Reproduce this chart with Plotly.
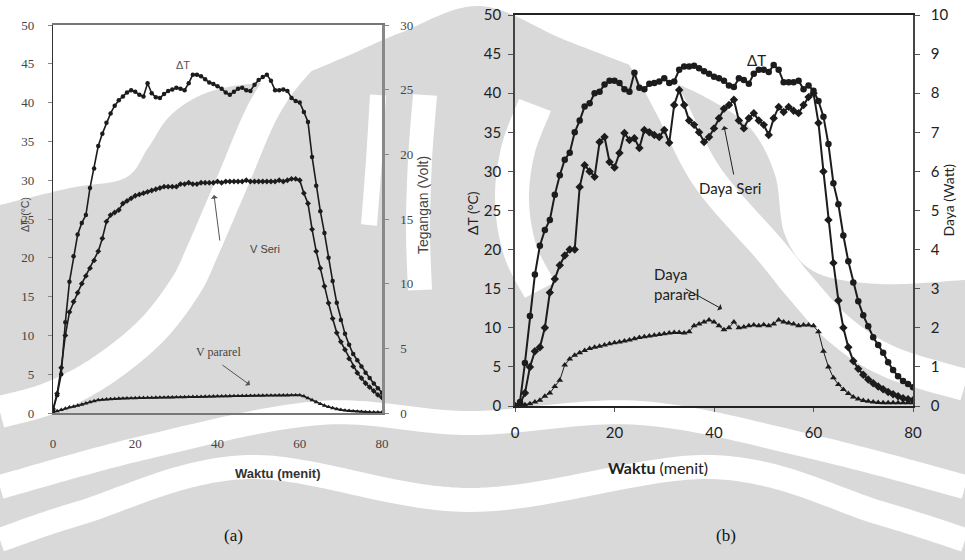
import numpy as np
import plotly.graph_objects as go

# Time axis (minutes), one reading per minute
waktu = list(range(0, 81))

# ---- Panel (a): temperature difference and voltages ----
dt_a = [0.3, 2.3, 5.0, 11.7, 16.9, 20.2, 23.0, 24.5, 25.5, 29.0,
        31.5, 34.4, 36.0, 37.4, 38.6, 39.6, 40.3, 40.8, 41.3, 41.6,
        41.4, 41.0, 40.8, 42.5, 41.2, 40.7, 40.6, 41.1, 41.5, 41.7,
        41.9, 41.8, 41.6, 42.5, 43.6, 43.6, 43.4, 43.0, 42.6, 42.4,
        42.1, 41.8, 41.3, 41.0, 41.4, 41.8, 41.9, 41.6, 41.5, 42.3,
        42.9, 43.3, 43.6, 42.8, 41.6, 41.6, 41.7, 41.5, 40.6, 40.2,
        40.0, 38.8, 37.5, 33.0, 29.3, 26.0, 23.2, 20.0, 17.0, 14.2,
        12.0, 10.2, 8.8, 7.6, 6.8, 6.0, 5.2, 4.5, 3.8, 3.2,
        2.6]
v_seri = [0.3, 1.5, 3.5, 6.0, 7.8, 8.6, 9.3, 10.0, 10.6, 11.2,
          11.8, 12.5, 13.5, 14.8, 15.3, 15.5, 15.7, 16.2, 16.4, 16.6,
          16.8, 16.9, 17.0, 17.1, 17.2, 17.3, 17.4, 17.5, 17.5, 17.5,
          17.5, 17.7, 17.7, 17.8, 17.7, 17.7, 17.8, 17.8, 17.8, 17.8,
          17.9, 17.8, 17.9, 17.9, 17.9, 17.9, 17.9, 18.0, 17.9, 17.9,
          17.9, 17.9, 17.9, 17.9, 17.9, 18.0, 17.9, 18.0, 18.1, 18.1,
          18.0, 17.0, 16.2, 14.2, 12.5, 11.2, 9.8, 8.5, 7.3, 6.2,
          5.5, 4.9, 4.2, 3.6, 3.1, 2.7, 2.3, 2.0, 1.7, 1.4,
          1.2]
v_pararel = [0.05, 0.15, 0.25, 0.35, 0.45, 0.50, 0.58, 0.65, 0.75, 0.85,
             0.92, 1.00, 1.03, 1.06, 1.08, 1.10, 1.12, 1.13, 1.14, 1.15,
             1.16, 1.17, 1.17, 1.18, 1.18, 1.19, 1.20, 1.20, 1.21, 1.21,
             1.22, 1.22, 1.23, 1.24, 1.25, 1.25, 1.26, 1.27, 1.28, 1.29,
             1.30, 1.30, 1.31, 1.31, 1.32, 1.32, 1.33, 1.33, 1.34, 1.34,
             1.35, 1.35, 1.36, 1.36, 1.36, 1.37, 1.37, 1.37, 1.38, 1.38,
             1.38, 1.30, 1.15, 1.00, 0.85, 0.70, 0.58, 0.47, 0.38, 0.30,
             0.25, 0.20, 0.17, 0.14, 0.12, 0.10, 0.08, 0.07, 0.06, 0.05,
             0.05]

# ---- Panel (b): temperature difference and power ----
dt_b = [0.0, 0.5, 5.5, 11.5, 16.8, 20.5, 22.5, 23.8, 27.0, 29.5,
        31.5, 32.4, 35.0, 36.5, 38.3, 38.7, 40.0, 40.2, 41.1, 41.6,
        41.6, 41.3, 40.5, 40.2, 42.6, 40.7, 40.5, 41.2, 41.3, 41.5,
        41.9, 41.3, 41.5, 43.0, 43.4, 43.4, 43.5, 43.2, 42.8, 42.5,
        42.1, 41.9, 41.6, 41.0, 40.8, 41.9, 41.7, 41.2, 42.5, 43.0,
        43.0, 42.7, 43.6, 43.0, 41.4, 41.4, 41.4, 41.6, 40.5, 41.0,
        40.3, 39.0, 37.0, 33.5, 28.5, 25.8, 21.8, 18.5, 15.8, 13.4,
        11.6, 10.2, 8.8, 7.8, 6.8, 5.6, 4.6, 3.8, 3.2, 2.8,
        2.4]
daya_seri = [0.0, 0.05, 0.33, 1.0, 1.4, 1.5, 2.0, 2.9, 3.25, 3.6,
             3.85, 4.0, 4.0, 5.6, 6.16, 6.0, 5.86, 6.75, 6.88, 6.24,
             6.1, 6.47, 6.98, 6.8, 6.85, 6.6, 7.06, 7.0, 6.93, 6.88,
             7.06, 6.73, 7.7, 8.08, 7.7, 7.3, 7.19, 7.0, 6.75, 6.88,
             7.1, 7.36, 7.6, 7.7, 7.83, 7.3, 7.1, 7.36, 7.49, 7.3,
             7.19, 6.93, 7.36, 7.65, 7.52, 7.65, 7.55, 7.49, 7.7, 7.9,
             8.0, 7.24, 6.0, 4.76, 3.66, 2.7, 2.0, 1.5, 1.15, 0.95,
             0.8, 0.68, 0.58, 0.5, 0.43, 0.36, 0.3, 0.25, 0.2, 0.17,
             0.15]
daya_pararel = [0.0, 0.02, 0.03, 0.06, 0.1, 0.15, 0.25, 0.33, 0.5, 0.66,
                1.05, 1.2, 1.3, 1.36, 1.42, 1.47, 1.5, 1.53, 1.56, 1.59,
                1.62, 1.64, 1.66, 1.69, 1.72, 1.75, 1.77, 1.79, 1.81, 1.83,
                1.85, 1.87, 1.88, 1.88, 1.87, 1.9, 2.05, 2.1, 2.15, 2.2,
                2.15, 2.05, 1.95, 2.0, 2.15, 2.0, 2.02, 2.05, 2.07, 2.05,
                2.08, 2.05, 2.1, 2.2, 2.15, 2.12, 2.1, 2.05, 2.07, 2.07,
                2.05, 1.9, 1.4, 1.0, 0.72, 0.55, 0.42, 0.32, 0.23, 0.18,
                0.14, 0.12, 0.1, 0.09, 0.08, 0.08, 0.08, 0.08, 0.08, 0.08,
                0.08]

x_ticks = [0, 20, 40, 60, 80]
dt_ticks = [0, 5, 10, 15, 20, 25, 30, 35, 40, 45, 50]
volt_ticks = [0, 5, 10, 15, 20, 25, 30]
watt_ticks = [0, 1, 2, 3, 4, 5, 6, 7, 8, 9, 10]

W, H = 965, 560
INK = "#1c1c1c"
MARK_GRAY = "#d9d9d9"


def px(x):
    return x / W


def py(y):
    return 1 - y / H


def path_from(points, close=False):
    """SVG path in paper units from a list of (x, y) pixel points."""
    parts = [f"{'M' if i == 0 else 'L'}{px(x):.5f},{py(y):.5f}" for i, (x, y) in enumerate(points)]
    return " ".join(parts) + (" Z" if close else "")


def smooth(points, n=24):
    """Catmull-Rom resampling through control points."""
    pts = np.array(points, dtype=float)
    out = []
    for i in range(len(pts) - 1):
        p0 = pts[max(i - 1, 0)]
        p1 = pts[i]
        p2 = pts[i + 1]
        p3 = pts[min(i + 2, len(pts) - 1)]
        for s in np.linspace(0, 1, n, endpoint=False):
            s2, s3 = s * s, s * s * s
            out.append(0.5 * ((2 * p1) + (-p0 + p2) * s + (2 * p0 - 5 * p1 + 4 * p2 - p3) * s2
                              + (-p0 + 3 * p1 - 3 * p2 + p3) * s3))
    out.append(pts[-1])
    return [tuple(p) for p in out]


def fill_shape(outline, color):
    return dict(type="path", xref="paper", yref="paper", layer="below",
                path=path_from(outline, close=True),
                fillcolor=color, line=dict(width=0))


def band_shape(points, width, color="white"):
    return dict(type="path", xref="paper", yref="paper", layer="below",
                path=path_from(smooth(points)), line=dict(color=color, width=width))


# Outline of the emblem body: a smooth upper rim, then straight down to the page bottom
rim = smooth([(0, 205), (70, 188), (125, 178), (148, 148), (168, 118), (195, 98),
              (228, 87), (290, 78), (345, 57), (400, 33), (480, 6), (565, 40),
              (650, 73), (705, 97), (750, 128), (775, 175), (785, 235), (815, 272),
              (880, 284), (965, 280)])
body = rim + [(965, 560), (0, 560)]

# Background emblem in light gray, drawn underneath the data
shapes = [
    fill_shape(body, MARK_GRAY),
    # large white arch with flaring feet
    band_shape([(0, 412), (50, 398), (100, 372), (150, 332), (185, 287), (203, 250),
                (234, 178), (265, 107), (300, 60), (345, 21), (400, -15), (480, -35),
                (560, -15), (615, 21), (645, 60), (671, 107), (708, 178), (770, 250),
                (800, 287), (840, 330), (890, 362), (965, 385)], 32),
    # inner white strokes around the centre
    band_shape([(378, 95), (374, 160), (369, 225)], 16),
    band_shape([(425, 95), (420, 160), (418, 230), (420, 290)], 24),
    band_shape([(535, 105), (518, 150), (512, 200), (520, 250), (540, 290)], 34),
    # white waves in the lower part
    band_shape([(0, 487), (147, 447), (320, 413), (470, 423), (640, 413), (813, 447),
                (965, 487)], 24),
    band_shape([(0, 540), (80, 513), (247, 467), (470, 500), (713, 467), (880, 513),
                (965, 540)], 24),
]

fig = go.Figure()

# Panel (a) traces
fig.add_trace(go.Scatter(x=waktu, y=dt_a, mode="lines+markers", xaxis="x", yaxis="y",
                         line=dict(color=INK, width=1.6),
                         marker=dict(symbol="circle", size=4.5, color=INK)))
fig.add_trace(go.Scatter(x=waktu, y=v_seri, mode="lines+markers", xaxis="x", yaxis="y2",
                         line=dict(color=INK, width=1.6),
                         marker=dict(symbol="diamond", size=4.5, color=INK)))
fig.add_trace(go.Scatter(x=waktu, y=v_pararel, mode="lines+markers", xaxis="x", yaxis="y2",
                         line=dict(color=INK, width=1.6),
                         marker=dict(symbol="triangle-up", size=4.5, color=INK)))

# Panel (b) traces
fig.add_trace(go.Scatter(x=waktu, y=dt_b, mode="lines+markers", xaxis="x2", yaxis="y3",
                         line=dict(color=INK, width=2),
                         marker=dict(symbol="circle", size=6.5, color=INK)))
fig.add_trace(go.Scatter(x=waktu, y=daya_seri, mode="lines+markers", xaxis="x2", yaxis="y4",
                         line=dict(color=INK, width=2),
                         marker=dict(symbol="diamond", size=6.5, color=INK)))
fig.add_trace(go.Scatter(x=waktu, y=daya_pararel, mode="lines+markers", xaxis="x2", yaxis="y4",
                         line=dict(color=INK, width=1),
                         marker=dict(symbol="triangle-up", size=6, color=INK)))

font_a = dict(family="Liberation Serif", size=13, color="#444")
font_b = dict(family="Lato", size=15, color="#222")

xa_dom = [px(53), px(382)]
ya_dom = [py(413), py(25)]
xb_dom = [px(515), px(913)]
yb_dom = [py(406), py(15)]

fig.update_layout(
    width=W, height=H,
    margin=dict(l=0, r=0, t=0, b=0, pad=0, autoexpand=False),
    paper_bgcolor="white", plot_bgcolor="rgba(0,0,0,0)",
    showlegend=False,
    shapes=shapes,
    xaxis=dict(domain=xa_dom, range=[0, 80], tickvals=x_ticks, anchor="y", automargin=False,
               showline=True, linecolor="#777", linewidth=2, mirror=True,
               ticks="", showgrid=False, zeroline=False, tickfont=font_a, ticklabelstandoff=17),
    yaxis=dict(domain=ya_dom, range=[0, 50], tickvals=dt_ticks, anchor="x", automargin=False,
               showline=True, linecolor="#333", linewidth=1.2,
               ticks="outside", ticklen=4, tickcolor="#888",
               showgrid=False, zeroline=False, tickfont=font_a, ticklabelstandoff=11),
    yaxis2=dict(range=[0, 30], tickvals=volt_ticks, overlaying="y", side="right", anchor="x",
                automargin=False,
                showline=True, linecolor="#888", linewidth=2.5,
                ticks="outside", ticklen=4, tickcolor="#888",
                showgrid=False, zeroline=False, tickfont=font_a, ticklabelstandoff=9),
    xaxis2=dict(domain=xb_dom, range=[0, 80], tickvals=x_ticks, anchor="y3", automargin=False,
                showline=True, linecolor="#222", linewidth=1.5, mirror=True,
                ticks="outside", ticklen=4, tickcolor="#555",
                showgrid=False, zeroline=False, tickfont=font_b, ticklabelstandoff=8),
    yaxis3=dict(domain=yb_dom, range=[0, 50], tickvals=dt_ticks, anchor="x2", automargin=False,
                showline=True, linecolor="#444", linewidth=1.5,
                ticks="outside", ticklen=5, tickcolor="#555",
                showgrid=False, zeroline=False, tickfont=font_b, ticklabelstandoff=4),
    yaxis4=dict(range=[0, 10], tickvals=watt_ticks, overlaying="y3", side="right", anchor="x2",
                automargin=False,
                showline=True, linecolor="#444", linewidth=1.5,
                ticks="outside", ticklen=5, tickcolor="#555",
                showgrid=False, zeroline=False, tickfont=font_b, ticklabelstandoff=8),
)

ann = []
# Axis titles
ann.append(dict(x=px(233), y=py(483), text="<b>Waktu (menit)</b>", showarrow=False,
                font=dict(family="Liberation Sans", size=13, color="#333")))
ann.append(dict(x=px(17), y=py(215), text="ΔT (°C)", textangle=-90, showarrow=False,
                font=dict(family="Liberation Sans", size=10.5, color="#444")))
ann.append(dict(x=px(423), y=py(205), text="Tegangan (Volt)", textangle=-90, showarrow=False,
                font=dict(family="Liberation Sans", size=14, color="#444")))
ann.append(dict(x=px(710), y=py(479), text="<b>Waktu</b> (menit)", showarrow=False,
                font=dict(family="Lato", size=16, color="#222")))
ann.append(dict(x=px(472), y=py(213), text="ΔT (°C)", textangle=-90, showarrow=False,
                font=dict(family="Lato", size=14, color="#222")))
ann.append(dict(x=px(958), y=py(200), text="Daya (Watt)", textangle=-90, showarrow=False,
                font=dict(family="Lato", size=14, color="#222")))
# Panel labels
ann.append(dict(x=px(222), y=py(547), text="(a)", showarrow=False,
                font=dict(family="Liberation Serif", size=17, color="#111")))
ann.append(dict(x=px(738), y=py(547), text="(b)", showarrow=False,
                font=dict(family="Liberation Serif", size=17, color="#111")))
# Curve labels, panel (a)
ann.append(dict(x=px(174), y=py(57), text="ΔT", showarrow=False,
                font=dict(family="Liberation Sans", size=11, color="#555")))
ann.append(dict(x=px(248), y=py(249), text="V Seri", showarrow=False,
                font=dict(family="Liberation Sans", size=11, color="#444")))
ann.append(dict(x=px(194), y=py(352), text="V pararel", showarrow=False,
                font=dict(family="Liberation Serif", size=12, color="#444")))
# Curve labels, panel (b)
ann.append(dict(x=px(768), y=py(49), text="ΔT", showarrow=False,
                font=dict(family="Lato", size=15, color="#222")))
ann.append(dict(x=px(763), y=py(188), text="Daya Seri", showarrow=False,
                font=dict(family="Lato", size=15, color="#222")))
ann.append(dict(x=px(652), y=py(284), xanchor="left", align="left", text="Daya<br>pararel",
                showarrow=False, font=dict(family="Lato", size=15, color="#222")))

for a in ann:
    a.setdefault("xref", "paper")
    a.setdefault("yref", "paper")

# Pointer arrows (tail offsets in pixels from the head)
arrows = [((220, 242), (214, 195), "#555"),
          ((221, 364), (250, 385), "#555"),
          ((734, 176), (724, 126), "#222"),
          ((684, 288), (722, 309), "#222")]
for (x0, y0), (x1, y1), c in arrows:
    ann.append(dict(x=px(x1), y=py(y1), xref="paper", yref="paper",
                    ax=x0 - x1, ay=y0 - y1, text="", showarrow=True,
                    arrowhead=1, arrowsize=1.2, arrowwidth=1, arrowcolor=c))

fig.update_layout(annotations=ann)

fig.write_html("out.html")
